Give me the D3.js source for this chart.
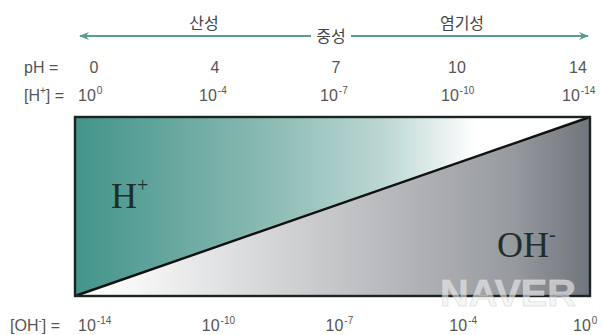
<!DOCTYPE html>
<html><head><meta charset="utf-8">
<script src="https://cdn.jsdelivr.net/npm/d3@7"></script>
<style>
html,body{margin:0;padding:0;background:#fff;}
svg{display:block;}
</style></head>
<body>
<script>
const pHValues = [0, 4, 7, 10, 14];
const hExponents = ["0", "-4", "-7", "-10", "-14"];
const ohExponents = ["-14", "-10", "-7", "-4", "0"];
const regionLabels = ["산성", "중성", "염기성"];
const regionPH = [4, 7, 10];

const W = 603, H = 335;
const SANS = "'Liberation Sans',Arial,sans-serif";
const svg = d3.select("body").append("svg").attr("width", W).attr("height", H);
const defs = svg.append("defs");

// scales
const xBox = d3.scaleLinear().domain([0, 14]).range([75, 590]);
const yBox = d3.scaleLinear().domain([0, 1]).range([296, 117]);
const xTop = d3.scalePoint().domain(pHValues).range([94, 578]);
const xBot = d3.scalePoint().domain(d3.range(ohExponents.length)).range([89, 584]);
const xRegion = d3.scaleLinear().domain([4, 7, 10]).range([204, 331, 462]);

// gradients
const addGrad = (id, stops) => {
  const g = defs.append("linearGradient").attr("id", id)
    .attr("gradientUnits", "userSpaceOnUse").attr("x1", xBox(0)).attr("x2", xBox(14)).attr("y1", 0).attr("y2", 0);
  stops.forEach(([o, c]) => g.append("stop").attr("offset", o).attr("stop-color", c));
};
addGrad("gH", [[0, "#42948a"], [0.35, "#86b8b1"], [0.6, "#bcd7d3"], [0.78, "#ffffff"], [1, "#ffffff"]]);
addGrad("gOH", [[0, "#ffffff"], [0.12, "#f6f6f6"], [0.35, "#d8d9db"], [0.6, "#b8babd"], [0.85, "#979a9f"], [1, "#70757d"]]);

// arrow marker
defs.append("marker").attr("id", "ah").attr("viewBox", "0 0 10 10").attr("refX", 9).attr("refY", 5)
  .attr("markerWidth", 11).attr("markerHeight", 10).attr("orient", "auto-start-reverse")
  .attr("markerUnits", "userSpaceOnUse")
  .append("path").attr("d", "M0,1 L10,5 L0,9 L3,5 Z").attr("fill", "#5d9a91");

// top arrow
svg.append("line").attr("x1", 80).attr("x2", 588).attr("y1", 36).attr("y2", 36)
  .attr("stroke", "#5d9a91").attr("stroke-width", 2)
  .attr("marker-start", "url(#ah)").attr("marker-end", "url(#ah)");

// region labels
regionLabels.forEach((t, i) => {
  const x = xRegion(regionPH[i]);
  const y = i === 1 ? 42 : 29;
  if (i === 1) {
    svg.append("rect").attr("x", x - 20).attr("y", 27).attr("width", 40).attr("height", 18).attr("fill", "#fff");
  }
  svg.append("text").attr("x", x).attr("y", y).attr("text-anchor", "middle")
    .style("font-family", "'Noto Sans CJK KR', sans-serif").style("font-size", "16px").attr("fill", "#444").text(t);
});

// row labels
const lab = (x, y, parts) => {
  const t = svg.append("text").attr("x", x).attr("y", y).style("font-family", SANS).style("font-size", "16px").attr("fill", "#555");
  parts.forEach(p => {
    const s = t.append("tspan").text(p.t);
    if (p.sup) s.style("font-size", "10px").attr("dy", -7);
    if (p.back) s.style("font-size", "16px").attr("dy", 7);
  });
  return t;
};
lab(24, 73, [{t: "pH ="}]);
lab(24, 101, [{t: "[H"}, {t: "+", sup: true}, {t: "] =", back: true}]);
lab(10, 331, [{t: "[OH"}, {t: "-", sup: true}, {t: "] =", back: true}]);

// pH row
svg.selectAll("text.ph").data(pHValues).join("text").attr("class", "ph")
  .attr("x", d => xTop(d)).attr("y", 73).attr("text-anchor", "middle")
  .style("font-family", SANS).style("font-size", "16px").attr("fill", "#555").text(d => d);

// [H+] row
pHValues.forEach((p, i) => {
  const t = svg.append("text").attr("x", xTop(p) - 16).attr("y", 101).style("font-family", SANS).style("font-size", "16px").attr("fill", "#555");
  t.append("tspan").text("10");
  t.append("tspan").style("font-size", "10px").attr("dy", -7).attr("dx", 1).text(hExponents[i]);
});

// [OH-] row
ohExponents.forEach((e, i) => {
  const t = svg.append("text").attr("x", xBot(i) - 11).attr("y", 331).style("font-family", SANS).style("font-size", "16px").attr("fill", "#555");
  t.append("tspan").text("10");
  t.append("tspan").style("font-size", "10px").attr("dy", -7).attr("dx", 1).text(e);
});

// box regions
const upper = [[xBox(0), yBox(0)], [xBox(0), yBox(1)], [xBox(14), yBox(1)]];
const lower = [[xBox(0), yBox(0)], [xBox(14), yBox(1)], [xBox(14), yBox(0)]];
const line = d3.line();
svg.append("path").attr("d", line(upper) + "Z").attr("fill", "url(#gH)");
svg.append("path").attr("d", line(lower) + "Z").attr("fill", "url(#gOH)");
svg.append("path").attr("d", line([[xBox(0), yBox(0)], [xBox(14), yBox(1)]]))
  .attr("stroke", "#111").attr("stroke-width", 2.4).attr("fill", "none");
svg.append("rect").attr("x", xBox(0)).attr("y", yBox(1)).attr("width", xBox(14) - xBox(0)).attr("height", yBox(0) - yBox(1))
  .attr("fill", "none").attr("stroke", "#1c2422").attr("stroke-width", 2.4);

// ion labels
const ion = (x, y, base, sup) => {
  const t = svg.append("text").attr("x", x).attr("y", y)
    .style("font-family", "'Liberation Serif','Times New Roman',serif").style("font-size", "36px").attr("fill", "#1e2e2b");
  t.append("tspan").text(base);
  t.append("tspan").style("font-size", "20px").attr("dy", -16).text(sup);
};
ion(111, 208, "H", "+");
ion(497, 257, "OH", "-");

// watermark
svg.append("text").attr("x", 440).attr("y", 306).attr("textLength", 136).attr("lengthAdjust", "spacingAndGlyphs")
  .style("font-family", SANS).style("font-weight", "bold").style("font-size", "36px")
  .attr("fill", "rgba(240,240,240,0.6)").attr("stroke", "rgba(215,215,215,0.6)").attr("stroke-width", 1).text("NAVER");
</script>
</body></html>
